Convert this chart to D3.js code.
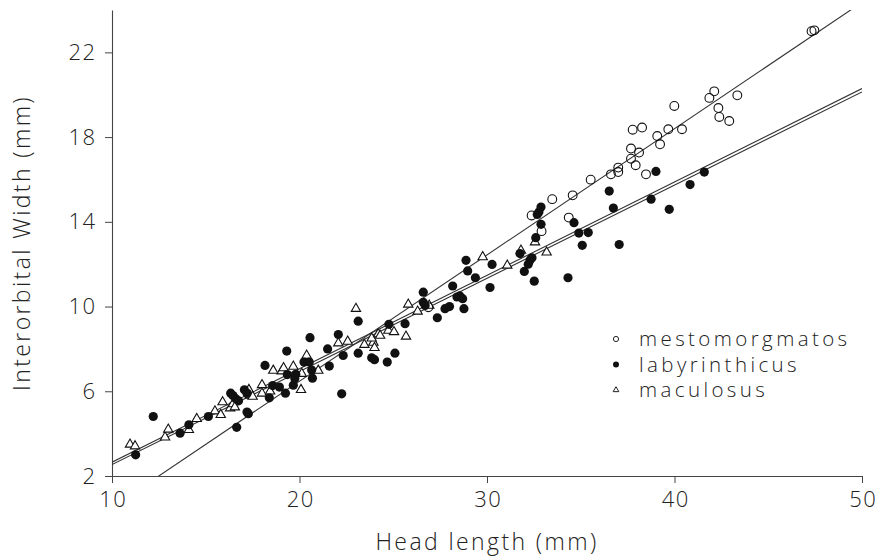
<!DOCTYPE html>
<html>
<head>
<meta charset="utf-8">
<script src="https://cdn.jsdelivr.net/npm/d3@7"></script>
<style>
  body { margin: 0; background: #fff; }
  text { font-family: "Open Sans", "DejaVu Sans", sans-serif; font-weight: 300; fill: #222; }
</style>
</head>
<body>
<div id="chart"></div>
<script>
// Head length (mm), interorbital width (mm)
const mestomorgmatos = [
  [26.87, 9.97], [32.38, 14.3], [32.91, 13.56], [33.48, 15.07], [34.36, 14.2],
  [34.57, 15.25], [35.53, 15.99], [36.61, 16.24], [37.0, 16.56], [37.0, 16.35],
  [37.68, 17.46], [37.68, 16.98], [37.77, 18.35], [37.93, 16.67], [38.11, 17.27],
  [38.27, 18.45], [38.48, 16.24], [39.08, 18.05], [39.23, 17.66], [39.67, 18.37],
  [39.99, 19.47], [40.4, 18.37], [41.86, 19.85], [42.12, 20.16], [42.34, 19.37],
  [42.39, 18.95], [42.92, 18.76], [43.35, 19.97], [47.31, 23.0], [47.46, 23.04]
];

const labyrinthicus = [
  [11.26, 3.0], [12.2, 4.81], [13.63, 4.02], [14.1, 4.42], [15.14, 4.81],
  [16.33, 5.91], [16.45, 5.8], [16.6, 5.65], [16.75, 5.55], [16.65, 4.3],
  [17.06, 6.07], [17.2, 5.9], [17.27, 4.94], [17.2, 5.02], [18.16, 7.22],
  [18.39, 5.69], [18.57, 6.27], [18.93, 6.2], [19.32, 7.9], [19.25, 5.91],
  [19.35, 6.79], [19.67, 6.29], [19.8, 6.8], [19.75, 6.6], [20.24, 7.38],
  [20.52, 7.38], [20.56, 8.53], [20.65, 7.0], [20.69, 6.62], [21.5, 8.0],
  [21.59, 7.19], [22.07, 8.68], [22.25, 5.88], [22.33, 7.69], [23.13, 9.31],
  [23.13, 7.8], [23.85, 7.58], [24.0, 7.49], [24.68, 7.38], [25.09, 7.8],
  [24.77, 9.16], [25.63, 9.19], [26.6, 10.68], [26.6, 10.2], [26.7, 10.05],
  [27.35, 9.47], [27.76, 9.9], [28.0, 10.0], [28.17, 10.97], [28.4, 10.45],
  [28.55, 10.5], [28.7, 10.37], [28.77, 9.9], [28.88, 12.18], [28.97, 11.68],
  [29.38, 11.36], [30.16, 10.9], [30.27, 11.99], [31.76, 12.5], [31.99, 11.66],
  [32.2, 12.0], [32.3, 12.2], [32.4, 12.3], [32.52, 11.2], [32.6, 13.25],
  [32.68, 14.35], [32.77, 14.46], [32.88, 14.7], [32.88, 13.88], [34.32, 11.36],
  [34.64, 13.96], [34.9, 13.47], [35.4, 13.49], [35.08, 12.89], [36.52, 15.45],
  [36.74, 14.65], [37.05, 12.93], [38.75, 15.07], [39.01, 16.38], [39.72, 14.59],
  [40.83, 15.76], [41.59, 16.35]
];

const maculosus = [
  [10.96, 3.49], [11.23, 3.41], [12.83, 3.83], [13.0, 4.2], [14.1, 4.18],
  [14.52, 4.7], [15.49, 5.06], [15.8, 4.89], [15.9, 5.49], [16.3, 5.2],
  [16.45, 5.4], [16.55, 5.25], [17.3, 6.07], [17.35, 5.8], [17.5, 5.75],
  [18.0, 5.9], [18.0, 6.3], [18.43, 6.0], [18.6, 6.98], [19.05, 6.95],
  [19.15, 7.1], [19.67, 7.17], [20.08, 6.07], [20.12, 6.83], [20.38, 7.69],
  [21.0, 6.98], [22.07, 8.27], [22.57, 8.35], [23.01, 9.9], [23.46, 8.2],
  [23.94, 8.3], [24.0, 8.05], [23.85, 8.5], [24.2, 8.7], [24.3, 8.63],
  [24.74, 8.87], [25.04, 8.8], [25.68, 8.59], [25.8, 10.1], [26.3, 9.77],
  [26.92, 10.05], [29.77, 12.34], [31.08, 11.94], [31.81, 12.65], [32.56, 13.04],
  [33.18, 12.56]
];

// fitted lines: [intercept, slope]
const fitMesto = [-5.45, 0.5962];
const fitLaby = [-1.86, 0.4398];
const fitMacu = [-1.76, 0.441];

const xTicks = [10, 20, 30, 40, 50];
const yTicks = [2, 6, 10, 14, 18, 22];
const legendNames = ["mestomorgmatos", "labyrinthicus", "maculosus"];

const width = 877, height = 556;
const margin = {left: 112, right: 15, top: 10, bottom: 80};

const x = d3.scaleLinear().domain([10, 50]).range([margin.left, width - margin.right]);
const y = d3.scaleLinear().domain([2, 24]).range([height - margin.bottom, margin.top]);

const svg = d3.select("#chart").append("svg")
  .attr("width", width)
  .attr("height", height);

svg.append("clipPath").attr("id", "plot-clip")
  .append("rect")
  .attr("x", x(10)).attr("y", y(24))
  .attr("width", x(50) - x(10)).attr("height", y(2) - y(24));

// axes
const xAxis = svg.append("g")
  .attr("transform", `translate(0,${y(2)})`)
  .call(d3.axisBottom(x).tickValues(xTicks).tickSize(7).tickPadding(8).tickSizeOuter(0));
const yAxis = svg.append("g")
  .attr("transform", `translate(${x(10)},0)`)
  .call(d3.axisLeft(y).tickValues(yTicks).tickSize(7).tickPadding(10).tickSizeOuter(0));

[xAxis, yAxis].forEach(g => {
  g.select(".domain").attr("stroke", "#444").attr("stroke-width", 1.1);
  g.selectAll(".tick line").attr("stroke", "#444");
  g.selectAll(".tick text")
    .style("font-family", "'Open Sans', 'DejaVu Sans', sans-serif")
    .style("font-weight", 300)
    .style("font-size", "22px")
    .style("letter-spacing", "1.5px")
    .attr("fill", "#222");
});
// letter-spacing pads the end of the last glyph; pull labels back
xAxis.selectAll(".tick text").attr("dx", "0.7px");
yAxis.selectAll(".tick text").attr("dx", "1.5px");

// axis titles
svg.append("text")
  .attr("x", (x(10) + x(50)) / 2)
  .attr("y", 550)
  .attr("text-anchor", "middle")
  .style("font-size", "23px")
  .style("letter-spacing", "2.4px")
  .text("Head length (mm)");

svg.append("text")
  .attr("transform", `translate(30,${(y(2) + y(24)) / 2}) rotate(-90)`)
  .attr("text-anchor", "middle")
  .style("font-size", "23px")
  .style("letter-spacing", "2.4px")
  .text("Interorbital Width (mm)");

// regression lines
const plot = svg.append("g").attr("clip-path", "url(#plot-clip)");
const line = d3.line().x(d => x(d[0])).y(d => y(d[1]));
[fitMesto, fitLaby, fitMacu].forEach(f => {
  plot.append("path")
    .attr("d", line([10, 50].map(v => [v, f[0] + f[1] * v])))
    .attr("fill", "none")
    .attr("stroke", "#333")
    .attr("stroke-width", 1.1);
});

// points
const tri = d3.symbol().type(d3.symbolTriangle).size(38);

plot.selectAll("path.macu")
  .data(maculosus)
  .enter().append("path")
  .attr("class", "macu")
  .attr("d", tri)
  .attr("transform", d => `translate(${x(d[0])},${y(d[1])})`)
  .attr("fill", "#fff")
  .attr("stroke", "#111")
  .attr("stroke-width", 1.1);

plot.selectAll("circle.laby")
  .data(labyrinthicus)
  .enter().append("circle")
  .attr("class", "laby")
  .attr("cx", d => x(d[0]))
  .attr("cy", d => y(d[1]))
  .attr("r", 4.6)
  .attr("fill", "#111");

plot.selectAll("circle.mesto")
  .data(mestomorgmatos)
  .enter().append("circle")
  .attr("class", "mesto")
  .attr("cx", d => x(d[0]))
  .attr("cy", d => y(d[1]))
  .attr("r", 4.4)
  .attr("fill", "none")
  .attr("stroke", "#111")
  .attr("stroke-width", 1.1);

// legend
const legend = svg.append("g").attr("transform", "translate(616,339)");
legendNames.forEach((name, i) => {
  const row = legend.append("g").attr("transform", `translate(0,${i * 25.5})`);
  if (i === 0) {
    row.append("circle").attr("r", 2.6).attr("fill", "none").attr("stroke", "#222").attr("stroke-width", 1);
  } else if (i === 1) {
    row.append("circle").attr("r", 3).attr("fill", "#111");
  } else {
    row.append("path").attr("d", d3.symbol().type(d3.symbolTriangle).size(14))
      .attr("fill", "none").attr("stroke", "#222").attr("stroke-width", 1);
  }
  row.append("text")
    .attr("x", 23)
    .attr("dy", "0.35em")
    .style("font-size", "20.5px")
    .style("letter-spacing", "3.4px")
    .text(name);
});
</script>
</body>
</html>
